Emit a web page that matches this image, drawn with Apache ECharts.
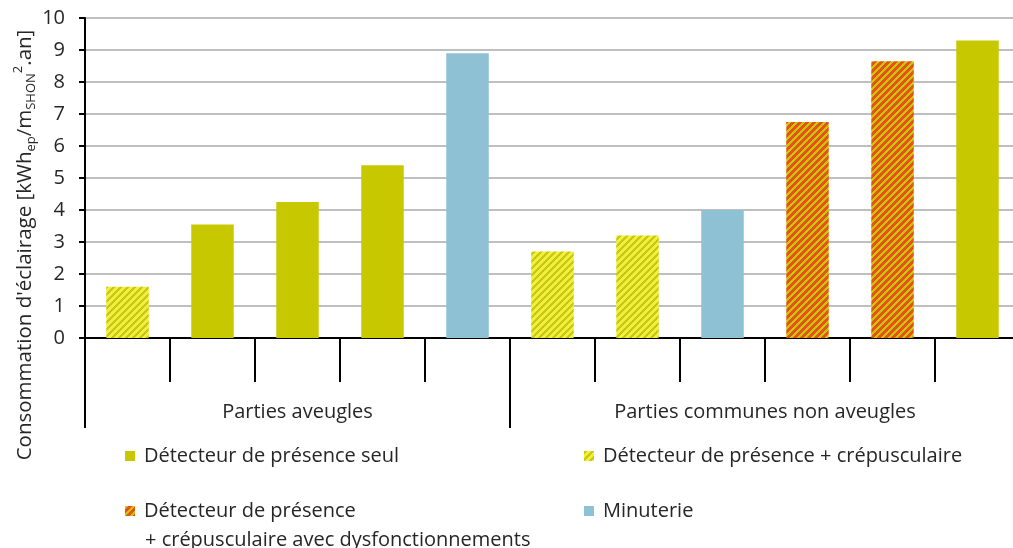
<!DOCTYPE html>
<html>
<head>
<meta charset="utf-8">
<script src="https://cdn.jsdelivr.net/npm/echarts@6/dist/echarts.min.js"></script>
<style>
  html, body { margin: 0; padding: 0; background: #fff; overflow: hidden; }
  #chart { width: 1020px; height: 548px; }
</style>
</head>
<body>
<div id="chart"></div>
<script>
// données
const barCats = ["1", "2", "3", "4", "5", "6", "7", "8", "9", "10", "11"];
const groups = ["Parties aveugles", "Parties communes non aveugles"];
const groupStart = [0, 5]; // premier index de chaque groupe
const yTicks = [0, 1, 2, 3, 4, 5, 6, 7, 8, 9, 10];
const seriesNames = [
  "Détecteur de présence seul",
  "Détecteur de présence + crépusculaire",
  "Détecteur de présence + crépusculaire avec dysfonctionnements",
  "Minuterie",
];
const seul = ["-", 3.55, 4.25, 5.4, "-", "-", "-", "-", "-", "-", 9.3];
const crepusculaire = [1.6, "-", "-", "-", "-", 2.7, 3.2, "-", "-", "-", "-"];
const dysfonction = ["-", "-", "-", "-", "-", "-", "-", "-", 6.75, 8.65, "-"];
const minuterie = ["-", "-", "-", "-", 8.9, "-", "-", 4.0, "-", "-", "-"];

const FONT = "Open Sans";
const TXT = "#262626";

// motif hachuré "/"
const makeStripes = (base, stripe, period, width) => {
  const c = document.createElement("canvas");
  c.width = period;
  c.height = period;
  const ctx = c.getContext("2d");
  ctx.fillStyle = base;
  ctx.fillRect(0, 0, period, period);
  ctx.fillStyle = stripe;
  for (let x = 0; x < period; x++) {
    for (let y = 0; y < period; y++) {
      if ((x + y) % period < width) ctx.fillRect(x, y, 1, 1);
    }
  }
  return { image: c, repeat: "repeat" };
};

const olive = "#C8C800";
const yellowStripe = makeStripes("#F0F03C", "#C8C814", 7, 3);
const redStripe = makeStripes("#E8501C", "#C8C800", 7, 3);
const blue = "#8EC1D3";

// libellé de groupe placé au centre de chaque groupe
const groupLabelIdx = {};
groups.forEach((g, i) => {
  const start = groupStart[i];
  const end = i + 1 < groupStart.length ? groupStart[i + 1] : barCats.length;
  const mid = (start + end) / 2; // en unités de catégorie
  const onBoundary = mid === Math.floor(mid);
  // si le centre tombe sur une frontière, on décale d'une demi-catégorie vers la gauche
  groupLabelIdx[Math.floor(mid)] = { text: g, shift: onBoundary };
});

const chart = echarts.init(document.getElementById("chart"));

const mkSeries = (name, data, color) => ({
  name: name,
  type: "bar",
  stack: "all",
  xAxisIndex: 0,
  barWidth: "50%",
  data: data,
  itemStyle: { color: color },
  emphasis: { disabled: true },
});

const mkLegend = (name, left, top, fmt) => ({
  data: [name],
  left: left,
  top: top,
  icon: "rect",
  itemWidth: 10,
  itemHeight: 10,
  selectedMode: false,
  formatter: fmt,
  textStyle: { fontFamily: FONT, fontSize: 20, color: TXT, padding: [0, 0, 0, 4] },
});

chart.setOption({
  animation: false,
  grid: { left: 85, right: 0, top: 18, bottom: 210 },
  xAxis: [
    {
      type: "category",
      data: barCats,
      position: "bottom",
      axisLine: { show: true, lineStyle: { color: "#000", width: 2 } },
      axisTick: { show: true, length: 44, interval: 0, lineStyle: { color: "#000", width: 2 } },
      axisLabel: { show: false },
    },
    {
      type: "category",
      data: barCats,
      position: "bottom",
      axisLine: { show: false },
      axisTick: {
        show: true,
        length: 90,
        interval: (idx) => groupStart.indexOf(idx) >= 0,
        lineStyle: { color: "#000", width: 2 },
      },
      axisLabel: {
        margin: 64,
        interval: (idx) => groupLabelIdx[idx] !== undefined,
        formatter: (v, idx) => {
          const g = groupLabelIdx[idx];
          if (!g) return "";
          return g.shift ? "{s|" + g.text + "}" : "{n|" + g.text + "}";
        },
        rich: {
          n: { fontFamily: FONT, fontSize: 20, color: TXT },
          s: { fontFamily: FONT, fontSize: 20, color: TXT, padding: [0, 85, 0, 0] },
        },
      },
      splitLine: { show: false },
    },
  ],
  yAxis: {
    type: "value",
    min: yTicks[0],
    max: yTicks[yTicks.length - 1],
    interval: 1,
    axisLine: { show: true, lineStyle: { color: "#000", width: 2 } },
    axisTick: { show: true, length: 6, lineStyle: { color: "#000", width: 2 } },
    axisLabel: { margin: 20, fontFamily: FONT, fontSize: 20, color: TXT },
    splitLine: { lineStyle: { color: "#BFBFBF", width: 2 } },
  },
  legend: [
    mkLegend(seriesNames[0], 120, 441),
    mkLegend(seriesNames[1], 579, 441),
    mkLegend(seriesNames[2], 120, 496, () => "Détecteur de présence"),
    mkLegend(seriesNames[3], 579, 496),
  ],
  graphic: [
    {
      type: "text",
      x: 25,
      y: 245,
      rotation: Math.PI / 2,
      style: {
        text: "{a|Consommation d'éclairage [kWh}{s|ep}{a|/m}{s|SHON}{p|2}{a|.an]}",
        align: "center",
        verticalAlign: "middle",
        rich: {
          a: { fontFamily: FONT, fontSize: 20.5, lineHeight: 26, fill: TXT },
          s: { fontFamily: FONT, fontSize: 13, lineHeight: 14, verticalAlign: "bottom", fill: TXT },
          p: { fontFamily: FONT, fontSize: 13, lineHeight: 14, verticalAlign: "top", fill: TXT },
        },
      },
    },
    {
      // seconde ligne de la légende "dysfonctionnements"
      type: "text",
      x: 145,
      y: 540,
      style: {
        text: "+ crépusculaire avec dysfonctionnements",
        fontFamily: FONT,
        fontSize: 20,
        fill: TXT,
        verticalAlign: "middle",
      },
    },
  ],
  series: [
    mkSeries(seriesNames[0], seul, olive),
    mkSeries(seriesNames[1], crepusculaire, yellowStripe),
    mkSeries(seriesNames[2], dysfonction, redStripe),
    mkSeries(seriesNames[3], minuterie, blue),
  ],
});
</script>
</body>
</html>
